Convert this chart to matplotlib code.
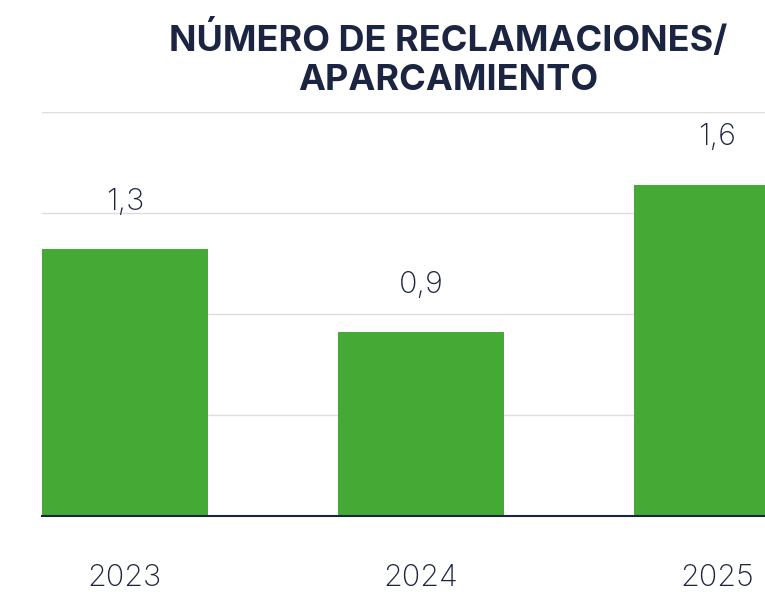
import matplotlib
matplotlib.use("Agg")
import matplotlib.pyplot as plt

years = ["2023", "2024", "2025"]
values = [1.32, 0.91, 1.64]

navy = "#1b2440"
green = "#45a935"

plt.rcParams["font.family"] = ["Inter", "DejaVu Sans"]

fig = plt.figure(figsize=(7.65, 5.92), dpi=100)
ax = fig.add_axes([42 / 765, 1 - 516 / 592, 1 - 42 / 765, (516 - 112) / 592])

x = range(len(years))
ax.bar(x, values, width=0.56, color=green, zorder=2)
ax.set_xlim(-0.28, 2.162)
ax.set_ylim(0, 2)

ax.set_yticks([0.5, 1.0, 1.5, 2.0])
ax.grid(axis="y", color="#dddddd", linewidth=1, zorder=0)
ax.tick_params(axis="y", left=False, labelleft=False)
ax.tick_params(axis="x", bottom=False, pad=31, labelsize=22, labelcolor=navy)
ax.set_xticks(list(x))
ax.set_xticklabels(years, fontweight="light")
for s in ["top", "right", "left"]:
    ax.spines[s].set_visible(False)
ax.spines["bottom"].set_color(navy)
ax.spines["bottom"].set_linewidth(1.5)
ax.spines["bottom"].set_zorder(3)

for xi, v in zip(x, values):
    ax.annotate(f"{v:.1f}".replace(".", ","), (xi, v), xytext=(0, 24),
                textcoords="offset points", ha="center", va="bottom",
                fontsize=22, color=navy, fontweight="light")

fig.text(448 / 765, 1 - 58 / 592, "NÚMERO DE RECLAMACIONES/\nAPARCAMIENTO",
         ha="center", va="center", fontsize=26, fontweight="bold",
         color=navy, linespacing=1.25)

fig.savefig("out.png", dpi=100)
